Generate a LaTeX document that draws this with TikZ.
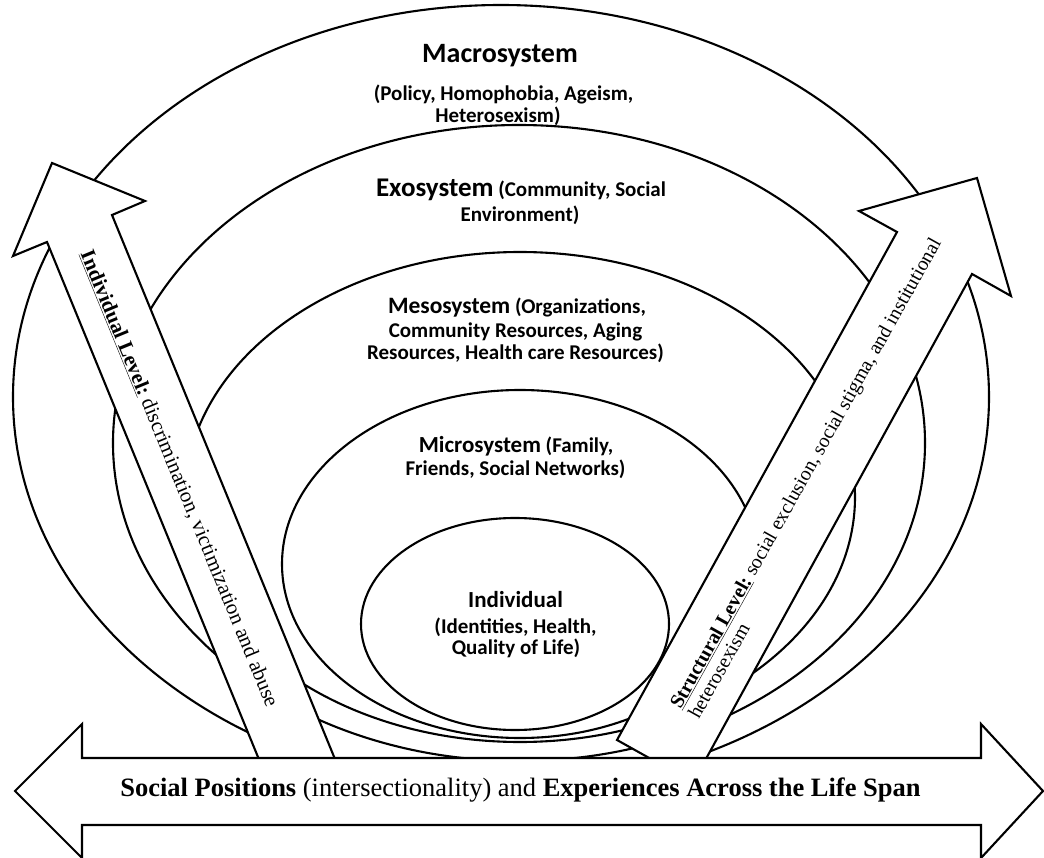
\documentclass[tikz,border=0pt]{standalone}
\usepackage{fontspec}
\setmainfont{Liberation Serif}
\newfontfamily\calib{Carlito}
\tikzset{
  ring/.style={draw=black, fill=white, line width=2.1pt},
  bigarrow/.style={draw=black, fill=white, line width=2.1pt, line join=miter},
  sublbl/.style={inner sep=0pt, anchor=base, font=\calib\bfseries\fontsize{21}{22}\selectfont},
  bigttl/.style={inner sep=0pt, anchor=base, font=\calib\bfseries\fontsize{28}{30}\selectfont},
  arrowtxt/.style={inner sep=0pt, font=\fontsize{20}{21}\selectfont}
}
\newcommand{\ttlsize}[2]{{\fontsize{#1}{#1}\selectfont #2}}
\begin{document}
\begin{tikzpicture}[x=1pt,y=-1pt]
\useasboundingbox (0,0) rectangle (1044,858);
\fill[white] (0,0) rectangle (1044,858);
% nested systems
\draw[ring] (501,397) ellipse [x radius=488pt, y radius=392pt];
\draw[ring] (519,443) ellipse [x radius=406pt, y radius=318pt];
\draw[ring] (520,497) ellipse [x radius=335pt, y radius=245pt];
\draw[ring] (520,564) ellipse [x radius=238pt, y radius=174pt];
\draw[ring] (515,624) ellipse [x radius=154pt, y radius=106pt];
% individual level arrow
\draw[bigarrow] (275.6,800) -- (47,242) -- (13,256) -- (52,163) -- (145,201) -- (112,215) -- (340.8,773.3) -- cycle;
% structural level arrow
\draw[bigarrow] (617,740) -- (897,232) -- (859,211) -- (977,178) -- (1011,296) -- (972,274) -- (693,782.5) -- cycle;
% life span double arrow
\draw[bigarrow] (15,791) -- (82,724) -- (82,758) -- (981,758) -- (981,724) -- (1043,791) -- (981,858) -- (981,825) -- (82,825) -- (82,858) -- cycle;
% texts
\node[bigttl] (macroT) at (500,63) {Macrosystem};
\node[sublbl] (macroS1) at (503.5,101) {(Policy, Homophobia, Ageism,};
\node[sublbl] (macroS2) at (498,123) {Heterosexism)};
\node[sublbl] (exo1) at (521,197) {\ttlsize{27}{Exosystem} (Community, Social};
\node[sublbl] (exo2) at (520,222) {Environment)};
\node[sublbl] (meso1) at (517,314) {\ttlsize{23.5}{Mesosystem} (Organizations,};
\node[sublbl] (meso2) at (515.5,338) {Community Resources, Aging};
\node[sublbl] (meso3) at (515.5,360) {Resources, Health care Resources)};
\node[sublbl] (micro1) at (516,452) {\ttlsize{23}{Microsystem} (Family,};
\node[sublbl] (micro2) at (515.5,475) {Friends, Social Networks)};
\node[sublbl] (ind1) at (515.5,607) {\ttlsize{23}{Individual}};
\node[sublbl] (ind2) at (515.5,633) {(Identities, Health,};
\node[sublbl] (ind3) at (516,654) {Quality of Life)};
\node[arrowtxt, font=\fontsize{21}{21}\selectfont, rotate=-67.7] (indlev) at (178.8,478.9)
  {\underline{\textbf{Individual Level:}} discrimination, victimization and abuse};
\node[arrowtxt, rotate=60.8, anchor=west, align=left] (strlev) at (683.7,711.7)
  {\underline{\textbf{Structural Level:}} social exclusion, social stigma, and institutional\\heterosexism};
\node[inner sep=0pt, anchor=base, font=\fontsize{26.5}{28}\selectfont] (span) at (520.5,796)
  {\textbf{Social Positions} (intersectionality) and \textbf{Experiences Across the Life Span}};
\end{tikzpicture}
\end{document}
